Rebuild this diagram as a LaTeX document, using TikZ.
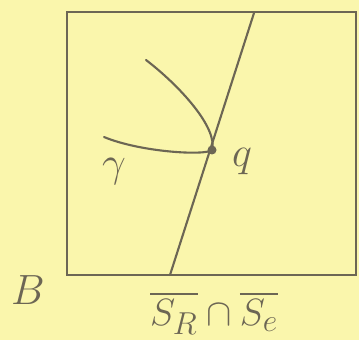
\documentclass[tikz,border=0pt]{standalone}
\usepackage{amsmath}
\definecolor{paper}{RGB}{250,246,172}
\definecolor{ink}{RGB}{108,102,84}
\begin{document}
\begin{tikzpicture}[x=0.03cm,y=-0.03cm,
    pen/.style={draw=ink,line width=1.8pt,line cap=round},
    lbl/.style={text=ink,inner sep=0pt,font=\Huge,scale=1.45}]
  \fill[paper] (0,0) rectangle (359,340);
  \useasboundingbox (0,0) rectangle (359,340);

  \coordinate (nw) at (67,12);
  \coordinate (se) at (356,275);
  \draw[pen] (nw) rectangle (se);

  \coordinate (top) at (254,13);
  \coordinate (bot) at (170,275);
  \draw[pen] (top) -- (bot);

  \coordinate (q) at (212,150);
  \coordinate (up) at (146,60);
  \coordinate (low) at (104,137);
  \draw[pen] (up) .. controls (180,86) and (218,128) .. (q);
  \draw[pen] (low) .. controls (140,152) and (205,156) .. (q);
  \fill[ink] (q) circle (4.5);

  \node[lbl] (qlab) at (242,162) {$q$};
  \node[lbl] (gamma) at (114,172) {$\gamma$};
  \node[lbl] (blab) at (28,290) {$B$};
  \node[lbl,scale=0.9] (cut) at (214,313)
    {$\overline{S_R}\cap\overline{S_e}$};
\end{tikzpicture}
\end{document}
